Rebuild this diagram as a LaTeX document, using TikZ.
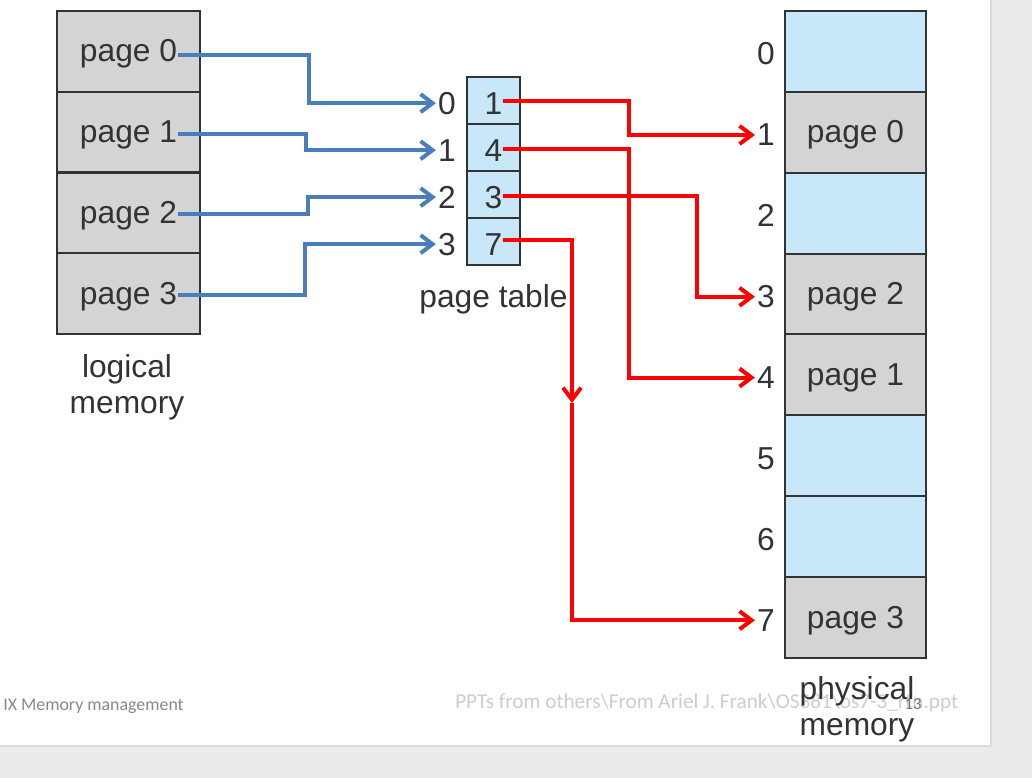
\documentclass[tikz,border=0pt]{standalone}
\usepackage{fontspec}
\setmainfont{Liberation Sans}
\newfontfamily\footfont{Carlito}
\usetikzlibrary{arrows.meta}
\definecolor{bgray}{HTML}{EBEBEB}
\definecolor{cellgray}{HTML}{D4D4D6}
\definecolor{cellblue}{HTML}{C8E7F8}
\definecolor{txt}{HTML}{333333}
\definecolor{bluearrow}{HTML}{4A7EBB}
\definecolor{redarrow}{HTML}{FF0000}
\definecolor{footgray}{HTML}{898989}
\definecolor{footlight}{HTML}{C9CED6}
\begin{document}
\begin{tikzpicture}[x=0.75pt,y=-0.75pt,
  big/.style={font=\fontsize{23.8}{27}\selectfont, text=txt},
  lcell/.style={draw=txt, line width=1.5pt, fill=cellgray, minimum width=107.25pt, minimum height=60.56pt, inner sep=0pt, anchor=center},
  pcell/.style={draw=txt, line width=1.5pt, fill=cellblue, minimum width=39.75pt, minimum height=35.25pt, inner sep=0pt},
  fcellg/.style={draw=txt, line width=1.5pt, fill=cellgray, minimum width=105.75pt, minimum height=60.66pt, inner sep=0pt},
  fcellb/.style={fcellg, fill=cellblue},
  lbl/.style={big, inner sep=1.5pt, yshift=-2pt},
  ctext/.style={big, inner sep=0.5pt, yshift=-2pt},
  barrow/.style={draw=bluearrow, line width=3pt, -{Straight Barb[length=9pt,width=13.5pt,line width=3pt]}},
  rarrow/.style={draw=redarrow, line width=3pt, -{Straight Barb[length=9pt,width=13.5pt,line width=3pt]}},
  footsmall/.style={font=\footfont\fontsize{13.4}{15}\selectfont, inner sep=0pt}
]
\useasboundingbox (0,0) rectangle (1032,778);
\fill[bgray] (0,0) rectangle (1032,778);
\fill[black!14] (0,0) rectangle (992,747);
\fill[white] (0,0) rectangle (990,745);

% footer
\node[footsmall, text=footgray, anchor=west] (foot1) at (3,706) {IX Memory management};
\node[font=\footfont\fontsize{15.9}{17}\selectfont, inner sep=0pt, text=footlight, anchor=west] (foot2) at (455,703) {PPTs from others\textbackslash From Ariel J. Frank\textbackslash OS381\textbackslash os7-3\_rtn.ppt};

% logical memory
\foreach \i/\y in {0/51.4,1/132.1,2/212.9,3/293.6}{
  \node[lcell] (L\i) at (128.5,\y) {};
  \node[ctext] (t\i) at (L\i) {page \i};
}
\node[big, align=center, inner sep=0pt] (lmlabel) at (127,387) {logical\\[0pt]memory};

% page table
\foreach \i/\v/\y in {0/1/100.5,1/4/147.5,2/3/194.5,3/7/241.5}{
  \node[pcell] (P\i) at (493.5,\y) {};
  \node[ctext] (v\i) at (P\i) {\v};
  \node[lbl] (I\i) at (447,\y) {\i};
}
\node[big, inner sep=0pt] (ptlabel) at (493.5,299) {page table};

% physical memory
\foreach \i/\y/\s in {0/51.4/fcellb,1/132.3/fcellg,2/213.2/fcellb,3/294.1/fcellg,4/374.9/fcellg,5/455.8/fcellb,6/536.7/fcellb,7/617.6/fcellg}{
  \node[\s] (F\i) at (855.5,\y) {};
  \node[lbl] (N\i) at (766,\y) {\i};
}
\node[ctext] (fp0) at (F1) {page 0};
\node[ctext] (fp2) at (F3) {page 2};
\node[ctext] (fp1) at (F4) {page 1};
\node[ctext] (fp3) at (F7) {page 3};
\node[big, align=center, inner sep=0pt] (pmlabel) at (857,709) {physical\\[0pt]memory};
\node[font=\footfont\fontsize{12.5}{13}\selectfont, text=footgray!85!black, inner sep=0pt] (slnum) at (913,704) {13};

% routing helpers
\coordinate (yb0) at (0,55);
\coordinate (yb1) at (0,134);
\coordinate (yb2) at (0,214);
\coordinate (yb3) at (0,295);
\coordinate (xb0) at (309,0);
\coordinate (xb1) at (306,0);
\coordinate (xb2) at (308,0);
\coordinate (xb3) at (305,0);
\coordinate (yr0) at (0,101);
\coordinate (yr1) at (0,149);
\coordinate (yr2) at (0,196);
\coordinate (yr3) at (0,240);
\coordinate (xr0) at (629,0);
\coordinate (xr1) at (629,0);
\coordinate (xr2) at (697,0);
\coordinate (xr3) at (572,0);

% blue arrows
\foreach \i in {0,1,2,3}{
  \draw[barrow] (t\i.east |- yb\i) -- (xb\i |- yb\i) |- (I\i.west);
}

% red arrows
\draw[rarrow] (v0.east |- yr0) -- (xr0 |- yr0) |- (N1.west);
\draw[rarrow] (v1.east |- yr1) -- (xr1 |- yr1) |- (N4.west);
\draw[rarrow] (v2.east |- yr2) -- (xr2 |- yr2) |- (N3.west);
\coordinate (m7) at (572,403);
\draw[rarrow] (v3.east |- yr3) -- (xr3 |- yr3) -- (m7);
\draw[rarrow] (m7) |- (N7.west);
\end{tikzpicture}
\end{document}
